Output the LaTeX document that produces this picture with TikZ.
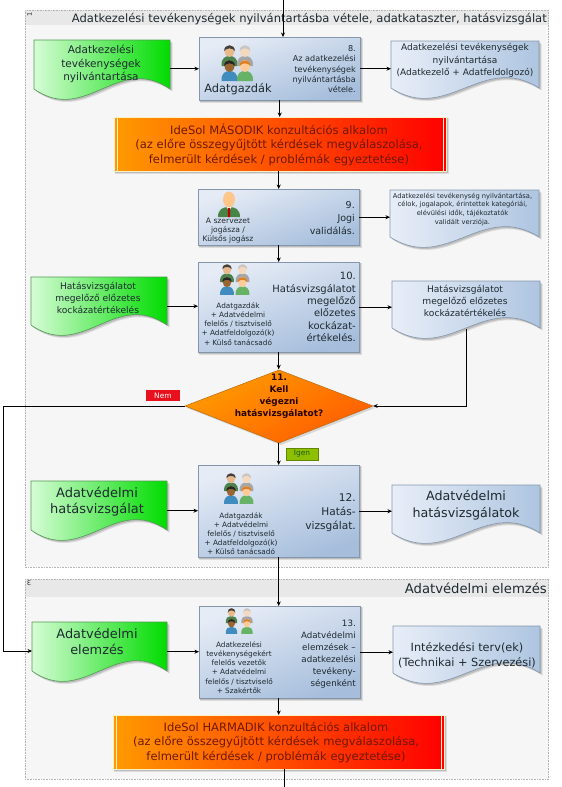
\documentclass[tikz,border=0pt]{standalone}
\usepackage{fontspec}
\setmainfont{DejaVu Sans}
\usetikzlibrary{arrows.meta,shapes.geometric,calc}
\definecolor{grpfill}{HTML}{F6F6F6}
\definecolor{grpline}{HTML}{B4B4B4}
\definecolor{grphead}{HTML}{E8E8E8}
\definecolor{txt}{HTML}{1E2A30}
\definecolor{bandtxt}{HTML}{6E1800}
\definecolor{skinA}{HTML}{E8B98A}
\definecolor{procL}{HTML}{E6ECF6}
\definecolor{procR}{HTML}{A6BEDC}
\definecolor{procE}{HTML}{8496AC}
\definecolor{docL}{HTML}{E8EEF8}
\definecolor{docR}{HTML}{AEC5E0}
\definecolor{greenL}{HTML}{D6FCD6}
\definecolor{greenR}{HTML}{00DC00}
\definecolor{greenE}{HTML}{4E9A4E}
\definecolor{bandL}{HTML}{FF9A00}
\definecolor{bandR}{HTML}{FF0000}
\definecolor{bandE}{HTML}{FDEFC0}
\definecolor{diaL}{HTML}{FF9C00}
\definecolor{diaR}{HTML}{FF5C00}
\definecolor{diaE}{HTML}{B86A10}
\definecolor{nemC}{HTML}{E8101C}
\definecolor{igenC}{HTML}{8DC000}
\definecolor{igenT}{HTML}{1E5A10}
\tikzset{
  x=1pt,y=-1pt,
  flow/.style={draw=black,line width=0.9pt,-{Stealth[length=4.5pt,width=4pt]}},
  procbox/.style={draw=none,inner sep=0pt,text=txt},
  doctext/.style={inner sep=0pt,align=center,text=txt},
  bandbox/.style={draw=none,inner sep=0pt,align=center,text=bandtxt},
  tagbox/.style={inner sep=0pt,font=\fontsize{7.5}{9}\selectfont},
}
% process box: name, x1,y1,x2,y2
\newcommand{\procshape}[5]{%
  \fill[black,opacity=.10] (#2+1,#3+1) rectangle (#4+3,#5+3);
  \fill[black,opacity=.14] (#2+1,#3+1) rectangle (#4+2,#5+2);
  \shade[left color=procL,right color=procR,shading angle=20,draw=procE,line width=.6pt] (#2,#3) rectangle (#4,#5);
  \node[procbox,minimum width=#4pt-#2pt,minimum height=#5pt-#3pt,anchor=north west] (#1) at (#2,#3) {};
}
% document: name, x1,y1,x2,y2, left colour, right colour, border
\newcommand{\docshape}[8]{%
  \def\docpath{(#2,#3) -- (#4,#3) -- (#4,#5-8)
     .. controls (#2+.62*#4-.62*#2,#5-44) and (#2+.38*#4-.38*#2,#5+28) .. (#2,#5-8) -- cycle}%
  \fill[black,opacity=.10,shift={(2.6,2.6)}] \docpath;
  \fill[black,opacity=.14,shift={(1.6,1.6)}] \docpath;
  \shade[left color=#6,right color=#7,draw=#8,line width=.6pt] \docpath;
  \node[inner sep=0pt,minimum width=#4pt-#2pt,minimum height=#5pt-#3pt,anchor=north west] (#1) at (#2,#3) {};
}
% band: name x1 y1 x2 y2
\newcommand{\bandshape}[5]{%
  \fill[black,opacity=.10] (#2+1,#3+1) rectangle (#4+3,#5+3);
  \fill[black,opacity=.14] (#2+1,#3+1) rectangle (#4+2,#5+2);
  \shade[left color=bandL,right color=bandR,draw=bandE,line width=.8pt] (#2,#3) rectangle (#4,#5);
  \draw[bandE,line width=.8pt] (#2+3,#3) -- (#2+3,#5) (#4-3,#3) -- (#4-3,#5);
  \node[bandbox,minimum width=#4pt-#2pt,minimum height=#5pt-#3pt,anchor=north west] (#1) at (#2,#3) {};
}
% one bust: cx, top y, scale, hair, skin, body
\newcommand{\bust}[6]{%
  \begin{scope}[shift={(#1,#2)},scale=#3]
    \fill[#6] (-8,21) .. controls (-8.5,13) and (-4,11) .. (0,11) .. controls (4,11) and (8.5,13) .. (8,21) -- cycle;
    \fill[#5] (0,6) ellipse (5 and 6);
    \fill[#4] (-5.3,6) .. controls (-5.8,-1.5) and (5.8,-1.5) .. (5.3,6) .. controls (3,2.5) and (-3,2.5) .. (-5.3,6) -- cycle;
  \end{scope}}
\newcommand{\peopleicon}[3]{%
  \bust{#1-7.5}{#2}{#3}{black!75}{skinA}{green!30!black!70!white}
  \bust{#1+8}{#2}{#3}{gray!45}{gray!30!orange!30!white}{gray!70}
  \bust{#1-7.5}{#2+15*#3}{#3}{black!85}{brown!80!black}{blue!40!cyan!50!gray}
  \bust{#1+8}{#2+15*#3}{#3}{orange!50!brown}{orange!40!white}{green!50!black!60!white}}
\begin{document}
\begin{tikzpicture}
\useasboundingbox (0,0) rectangle (562,787);
\fill[white] (0,0) rectangle (562,787);
% groups
\fill[grpfill] (25,10) rectangle (548.5,567);
\fill[grphead] (25,10) rectangle (548.5,25);
\draw[grpline,densely dotted,line width=.6pt] (25,10) rectangle (548.5,567);
\fill[grpfill] (25,579) rectangle (548.5,779);
\fill[grphead] (25,579) rectangle (548.5,597);
\draw[grpline,densely dotted,line width=.6pt] (25,579) rectangle (548.5,779);
\node[inner sep=0pt,anchor=center,rotate=90,text=txt,font=\fontsize{6.5}{7}\selectfont] (gn1) at (29.5,14) {1};
\node[inner sep=0pt,anchor=center,text=txt,font=\fontsize{6.5}{7}\selectfont] (gn3) at (29,583.5) {\reflectbox{3}};
\node[inner sep=0pt,anchor=east,text=txt,font=\fontsize{11.55}{13}\selectfont] (t1) at (547,19) {Adatkezelési tevékenységek nyilvántartásba vétele, adatkataszter, hatásvizsgálat};
\node[inner sep=0pt,anchor=east,text=txt,font=\fontsize{13.2}{15}\selectfont] (t2) at (547,588) {Adatvédelmi elemzés};
% shapes
\docshape{d1}{34}{40}{170}{97}{greenL}{greenR}{greenE}
\docshape{d1r}{391}{41}{539}{96}{docL}{docR}{procE}
\procshape{p8}{199}{37}{360}{100}
\bandshape{b1}{114}{117}{446}{171}
\procshape{p9}{198}{189}{359}{245}
\docshape{d9}{390}{190}{539}{245}{docL}{docR}{procE}
\docshape{d2}{31}{277}{167}{333}{greenL}{greenR}{greenE}
\procshape{p10}{198}{262}{359}{352}
\docshape{d2r}{392}{281}{540}{336}{docL}{docR}{procE}
\docshape{d3}{31}{481}{167}{538}{greenL}{greenR}{greenE}
\procshape{p12}{198}{465}{359}{557}
\docshape{d3r}{392}{485}{540}{541}{docL}{docR}{procE}
\docshape{d4}{32}{622}{167}{679}{greenL}{greenR}{greenE}
\procshape{p13}{199}{606}{360}{698}
\docshape{d4r}{393}{626}{540}{681}{docL}{docR}{procE}
\bandshape{b2}{113}{715}{444}{769}
% diamond
\fill[black,opacity=.13] (187,408) -- (281,372) -- (375,408) -- (281,445) -- cycle;
\shade[left color=diaL,right color=diaR,shading angle=30,draw=diaE,line width=.5pt] (185,406) -- (279,370) -- (373,406) -- (279,443) -- cycle;
\node[inner sep=0pt,minimum width=188pt,minimum height=73pt,anchor=center] (q) at (279,406) {};
% icons
\peopleicon{237}{45}{1}
\peopleicon{234.5}{264}{.86}
\peopleicon{238.5}{473}{.86}
\peopleicon{239}{608}{.72}
% single person
\begin{scope}[shift={(229,192)}]
  \fill[gray!70!green!80!black] (-11,25) .. controls (-11,17) and (-6,15) .. (0,15) .. controls (6,15) and (11,17) .. (11,25) -- cycle;
  \fill[white] (-2.5,15) -- (2.5,15) -- (0,19) -- cycle;
  \fill[red!75!black] (-1,16) -- (1,16) -- (1.2,25) -- (-1.2,25) -- cycle;
  \fill[orange!45!white] (0,7.5) ellipse (6 and 8);
\end{scope}
% texts
\node[doctext,font=\fontsize{10.5}{13.6}\selectfont,anchor=north] (d1t) at (101,45) {Adatkezelési\\tevékenységek\\nyilvántartása};
\node[procbox,anchor=center,font=\fontsize{11.4}{13}\selectfont] (p8a) at (238,89.5) {Adatgazdák};
\node[procbox,align=right,anchor=north east,font=\fontsize{8.1}{10.4}\selectfont] (p8t) at (356,45) {8.\\Az adatkezelési\\tevékenységek\\nyilvántartásba\\vétele.};
\node[doctext,font=\fontsize{9}{12.4}\selectfont,anchor=north] (d1rt) at (465,43.5) {Adatkezelési tevékenységek\\nyilvántartása\\(Adatkezelő + Adatfeldolgozó)};
\node[bandbox,font=\fontsize{11.55}{14.6}\selectfont] (b1t) at (279,144.5) {IdeSol MÁSODIK konzultációs alkalom\\(az előre összegyűjtött kérdések megválaszolása,\\felmerült kérdések / problémák egyeztetése)};
\node[procbox,align=center,anchor=north,font=\fontsize{7.6}{9.3}\selectfont] (p9a) at (228,217.5) {A szervezet\\jogásza /\\Külsős jogász};
\node[procbox,align=right,anchor=north east,font=\fontsize{9.5}{13}\selectfont] (p9t) at (355,201) {9.\\Jogi\\validálás.};
\node[doctext,font=\fontsize{6.7}{8.8}\selectfont,anchor=north] (d9t) at (462.5,192.5) {Adatkezelési tevékenység nyilvántartása,\\célok, jogalapok, érintettek kategóriái,\\elévülési idők, tájékoztatók\\validált verziója.};
\node[doctext,font=\fontsize{9.1}{12.1}\selectfont,anchor=north] (d2t) at (98,282) {Hatásvizsgálatot\\megelőző előzetes\\kockázatértékelés};
\node[procbox,align=center,anchor=north,font=\fontsize{7.3}{9.3}\selectfont] (p10a) at (238,302) {Adatgazdák\\+ Adatvédelmi\\felelős / tisztviselő\\+ Adatfeldolgozó(k)\\+ Külső tanácsadó};
\node[procbox,align=right,anchor=north east,font=\fontsize{10}{12.4}\selectfont] (p10t) at (356,272) {10.\\Hatásvizsgálatot\\megelőző\\előzetes\\kockázat-\\értékelés.};
\node[doctext,font=\fontsize{9.1}{12.1}\selectfont,anchor=north] (d2rt) at (465,285) {Hatásvizsgálatot\\megelőző előzetes\\kockázatértékelés};
\node[inner sep=0pt,align=center,text=black!85!red,font=\bfseries\fontsize{8.9}{12}\selectfont,anchor=north] (qt) at (279,374) {11.\\Kell\\végezni\\hatásvizsgálatot?};
\node[doctext,font=\fontsize{13}{16.5}\selectfont,anchor=north] (d3t) at (97,486.5) {Adatvédelmi\\hatásvizsgálat};
\node[procbox,align=center,anchor=north,font=\fontsize{7.3}{9.2}\selectfont] (p12a) at (241,512) {Adatgazdák\\+ Adatvédelmi\\felelős / tisztviselő\\+ Adatfeldolgozó(k)\\+ Külső tanácsadó};
\node[procbox,align=right,anchor=north east,font=\fontsize{10.6}{14}\selectfont] (p12t) at (356,493.5) {12.\\Hatás-\\vizsgálat.};
\node[doctext,font=\fontsize{12.7}{16.5}\selectfont,anchor=north] (d3rt) at (466,490.5) {Adatvédelmi\\hatásvizsgálatok};
\node[doctext,font=\fontsize{12.9}{16.5}\selectfont,anchor=north] (d4t) at (97,627.5) {Adatvédelmi\\elemzés};
\node[procbox,align=center,anchor=north,font=\fontsize{7.3}{9.3}\selectfont] (p13a) at (239,641) {Adatkezelési\\tevékenységekért\\felelős vezetők\\+ Adatvédelmi\\felelős / tisztviselő\\+ Szakértők};
\node[procbox,align=right,anchor=north east,font=\fontsize{8.7}{12}\selectfont] (p13t) at (356,619.5) {13.\\Adatvédelmi\\elemzések –\\adatkezelési\\tevékeny-\\ségenként};
\node[doctext,font=\fontsize{11.3}{15}\selectfont,anchor=north] (d4rt) at (467,642) {Intézkedési terv(ek)\\(Technikai + Szervezési)};
\node[bandbox,font=\fontsize{11.5}{14.6}\selectfont] (b2t) at (276,742.5) {IdeSol HARMADIK konzultációs alkalom\\(az előre összegyűjtött kérdések megválaszolása,\\felmerült kérdések / problémák egyeztetése)};
% tags
\node[tagbox,fill=nemC,text=white,minimum width=34pt,minimum height=11pt] (nem) at (163,395.5) {Nem};
\node[tagbox,fill=igenC,draw=igenC!70!black,line width=.3pt,text=igenT,minimum width=32pt,minimum height=12.5pt] (igen) at (302,454) {Igen};
% connectors
\coordinate (top) at (283,0);
\coordinate (bot) at (284,787);
\coordinate (nemc) at (3,406);
\coordinate (nemd) at (3,651);
\draw[flow] (top) -- (top |- p8.north);
\draw[flow] (d1.east) -- (p8.west);
\draw[flow] (p8.east) -- (p8.east -| d1r.west);
\draw[flow] (p8.south) -- (p8.south |- b1.north);
\draw[flow] (p9.north |- b1.south) -- (p9.north);
\draw[flow] (p9.east) -- (p9.east -| d9.west);
\draw[flow] (p9.south) -- (p10.north);
\draw[flow] ([yshift=-1pt]d2.east) -- ([yshift=-1pt]d2.east -| p10.west);
\draw[flow] (p10.east) -- (p10.east -| d2r.west);
\draw[flow] (p10.south) -- (p10.south |- q.north);
\draw[flow] ([yshift=7pt]d2r.south) |- (q.east);
\draw[flow] (p10.south |- q.south) -- (p12.north);
\draw[flow] (q.west) -- (nemc) -- (nemd) -- (d4.west |- nemd);
\draw[flow] ([yshift=-1pt]d3.east) -- ([yshift=-1pt]d3.east -| p12.west);
\draw[flow] (p12.east) -- (p12.east -| d3r.west);
\draw[flow] (p12.south) -- (p12.south |- p13.north);
\draw[flow] ([yshift=-1pt]d4.east) -- ([yshift=-1pt]d4.east -| p13.west);
\draw[flow] (p13.east) -- (p13.east -| d4r.west);
\draw[flow] (p12.south |- p13.south) -- (p12.south |- b2.north);
\draw[draw=black,line width=.9pt] (bot |- b2.south) -- (bot);
\end{tikzpicture}
\end{document}
